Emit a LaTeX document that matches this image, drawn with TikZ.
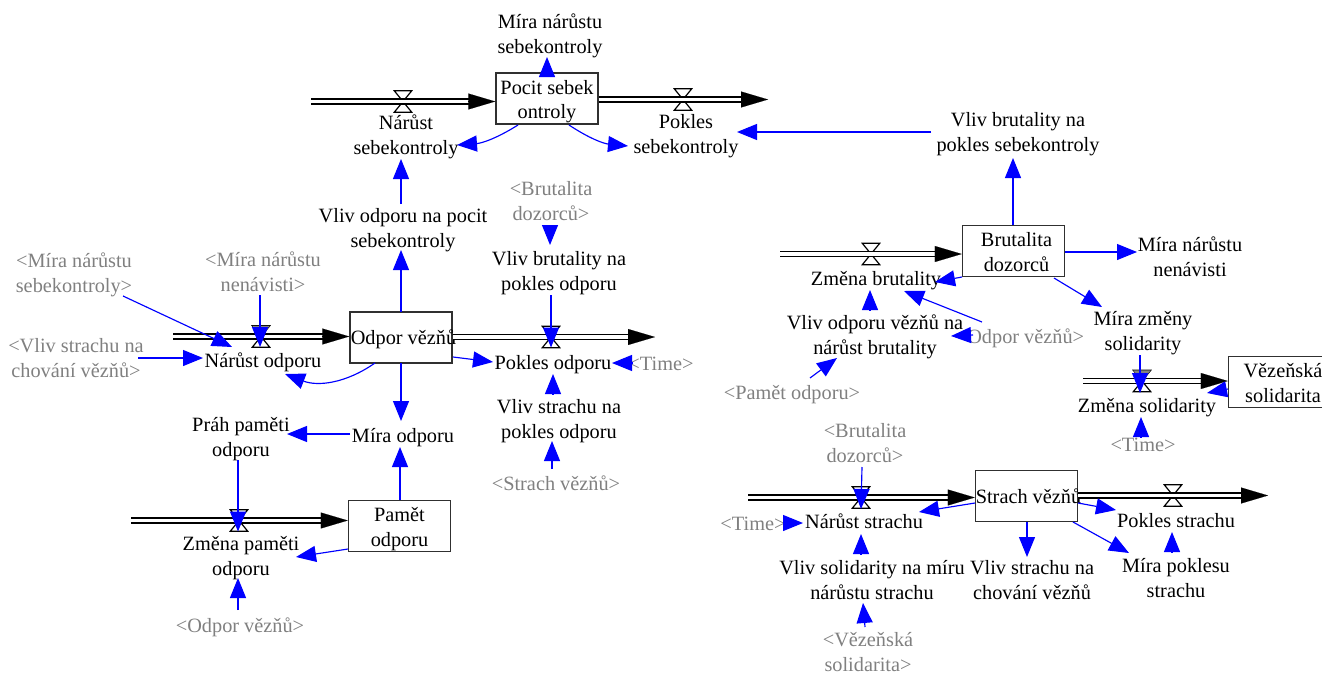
\documentclass[tikz,border=0pt]{standalone}
\usepackage{fontspec}
\setmainfont{Liberation Serif}
\usetikzlibrary{arrows.meta,calc}
\definecolor{gtext}{HTML}{808080}
\definecolor{bord}{HTML}{303030}
\newcommand{\zln}[1]{\makebox[0pt]{#1}}
\newcommand{\zz}{\rule{0pt}{19pt}}
\newcommand{\zq}{\rule{0pt}{21pt}}
\newcommand{\zy}{\rule[-5pt]{0pt}{0pt}}
\newcommand{\tn}[3]{\node[lab] (#1) at (#2) {\zz #3\zy};}
\newcommand{\gn}[3]{\node[glab] (#1) at (#2) {\zz #3\zy};}
\newcommand{\lnk}[6]{\draw[link] ([shift={(#2,#3)}]#1.center) -- ([shift={(#5,#6)}]#4.center);}
\newcommand{\valve}[2]{\node[valvebox] (#1) at (#2) {};
  \draw[valveline] (#1.north west) -- (#1.north east) -- (#1.south west) -- (#1.south east) -- cycle;}
\newcommand{\valvetop}[1]{\fill[gray] (#1.north west) -- (#1.north east) -- ($(#1.north east)!.35!(#1.south west)$) -- ($(#1.north west)!.35!(#1.south east)$) -- cycle;}
\newcommand{\inflow}[2]{\coordinate (#1t) at (#1 -| #2.west);
  \draw[pipe] (#1) -- ([xshift=-20]#1t);
  \draw[pipetip] ([xshift=-27]#1t) -- (#1t);}
\newcommand{\outflow}[2]{\coordinate (#1s) at (#1 -| #2.east);
  \draw[pipe] (#1s) -- ([xshift=-20]#1);
  \draw[pipetip] ([xshift=-27]#1) -- (#1);}
\tikzset{
  lab/.style={inner sep=0pt,align=center,font=\fontsize{20.3}{24.5}\selectfont},
  glab/.style={lab,text=gtext},
  stock/.style={lab,draw=bord,line width=1.5pt,minimum width=102pt,minimum height=51pt},
  valvebox/.style={inner sep=0pt,minimum width=17pt,minimum height=21pt},
  valveline/.style={draw=black,fill=white,line width=1.2pt},
  link/.style={draw=blue,line width=1.15pt,-{Triangle[length=20pt,width=16pt,fill=blue]}},
  pipe/.style={draw=black,line width=1.5pt,double=white,double distance=3.4pt},
  pipetip/.style={draw=black,line width=0.1pt,-{Triangle[length=27pt,width=16pt,fill=black]}},
}
\begin{document}
\begin{tikzpicture}[x=1pt,y=-1pt]
\clip (0,0) rectangle (1322,672);
% valves
\valve{v1}{403,101.5}
\valve{v2}{683,99.5}
\valve{v3}{261,336.5}
\valvetop{v3}
\valve{v4}{551,337}
\valve{v5}{239,520.5}
\valve{v6}{871,254}
\valve{v7}{1142,381}
\valvetop{v7}
\valve{v8}{861,497.5}
\valve{v9}{1173,495.5}
% stocks
\node[stock] (ps) at (547,98.5) {\zq\zln{Pocit sebek}\\\zln{ontroly}\zy};
\node[stock] (odp) at (401,337.5) {\zz\zln{\hspace{5pt}Odpor vězňů}\zy};
\node[stock] (pam) at (399.5,526) {\zq\zln{Pamět}\\\zln{odporu}\zy};
\node[stock] (br) at (1013.5,251) {\zq\zln{\hspace{6pt}Brutalita}\\\zln{\hspace{6pt}dozorců}\zy};
\node[stock] (ves) at (1279.5,382) {\zq\zln{\hspace{7pt}Vězeňská}\\\zln{\hspace{7pt}solidarita}\zy};
\node[stock] (st) at (1026.5,496) {\zz\zln{\hspace{4pt}Strach vězňů}\zy};
% labels
\tn{mns}{550,34}{Míra nárůstu\\sebekontroly}
\tn{ns}{406,135}{Nárůst\\sebekontroly}
\tn{pks}{686,134}{Pokles\\sebekontroly}
\tn{vbs}{1018,132}{Vliv brutality na\\pokles sebekontroly}
\tn{vop}{403,228}{Vliv odporu na pocit\\sebekontroly}
\tn{nod}{263,360}{Nárůst odporu}
\gn{gms}{74,273}{<Míra nárůstu\\sebekontroly>}
\gn{gmn}{263,272}{<Míra nárůstu\\nenávisti>}
\gn{gvs}{76,358}{<Vliv strachu na\\chování vězňů>}
\tn{pko}{553,362}{Pokles odporu}
\tn{mo}{403,435}{Míra odporu}
\tn{pr}{241,437}{Práh paměti\\odporu}
\tn{zp}{241,556}{Změna paměti\\odporu}
\gn{god}{240,625}{<Odpor vězňů>}
\tn{vbo}{559,271}{Vliv brutality na\\pokles odporu}
\gn{gbd}{551,201}{<Brutalita\\dozorců>}
\gn{gti1}{661,363}{<Time>}
\tn{vso}{559,419}{Vliv strachu na\\pokles odporu}
\gn{gsv}{556,483}{<Strach vězňů>}
\tn{zb}{876,278}{Změna brutality}
\tn{mnn}{1190,257}{Míra nárůstu\\nenávisti}
\tn{mzs}{1143,331}{Míra změny\\solidarity}
\tn{zs}{1147,405}{Změna solidarity}
\gn{gti2}{1143,444}{<Time>}
\gn{god2}{1020,336}{<Odpor vězňů>}
\tn{vov}{875,335}{Vliv odporu vězňů na\\nárůst brutality}
\gn{gpo}{792,392}{<Pamět odporu>}
\tn{nst}{864,521}{Nárůst strachu}
\gn{gbd2}{865,443}{<Brutalita\\dozorců>}
\gn{gti3}{753,523}{<Time>}
\tn{vsm}{872,580}{Vliv solidarity na míru\\nárůstu strachu}
\gn{gvz}{868,652}{<Vězeňská\\solidarita>}
\tn{vsc}{1032,580}{Vliv strachu na\\chování vězňů}
\tn{pst}{1176,520}{Pokles strachu}
\tn{mps}{1176,578}{Míra poklesu\\strachu}
% pipes
\coordinate (c1) at (311,101.5); \inflow{c1}{ps}
\coordinate (e2) at (768,99.5); \outflow{e2}{ps}
\coordinate (c3) at (173,336.5); \inflow{c3}{odp}
\coordinate (e4) at (655,337); \outflow{e4}{odp}
\coordinate (c5) at (131,520.5); \inflow{c5}{pam}
\coordinate (c6) at (780,254); \inflow{c6}{br}
\coordinate (c7) at (1083,381); \inflow{c7}{ves}
\coordinate (c8) at (748,497.5); \inflow{c8}{st}
\coordinate (e9) at (1268,495.5); \outflow{e9}{st}
% connectors
\lnk{ps}{0}{-22.5}{mns}{-3}{23}
\draw[link] ([shift={(-29,26.5)}]ps.center) to[bend left=14] ([shift={(51,10)}]ns.center);
\draw[link] ([shift={(22,26.5)}]ps.center) to[bend right=14] ([shift={(-58,12)}]pks.center);
\lnk{vbs}{-87}{0}{pks}{51}{-2}
\lnk{vop}{-2}{-24}{ns}{-5}{24}
\lnk{odp}{0}{-25.5}{vop}{-2}{22}
\lnk{gms}{49}{23}{nod}{-31}{-13}
\lnk{gmn}{-3}{23}{v3}{-1}{10.5}
\lnk{gvs}{62}{0}{nod}{-60}{-2}
\draw[link] ([shift={(-26,25.5)}]odp.center) to[bend left=28] ([shift={(22,14)}]nod.center);
\lnk{odp}{52}{19.5}{pko}{-60}{0}
\lnk{odp}{0}{25.5}{mo}{-2}{-14}
\lnk{mo}{-53}{-1}{pr}{46}{-3}
\lnk{pr}{-3}{23}{v5}{-1}{11}
\lnk{pam}{0.5}{-26}{mo}{-3}{12}
\lnk{pam}{-51.5}{23}{zp}{55}{1}
\lnk{god}{-2}{-15}{zp}{-3}{22}
\lnk{gbd}{-1}{25}{vbo}{-9}{-26}
\lnk{vbo}{-8}{24}{v4}{0}{10.5}
\lnk{gti1}{-29}{0}{pko}{59}{1}
\lnk{vso}{-6}{-25}{pko}{0}{12}
\lnk{gsv}{-4}{-14}{vso}{-7}{22}
\lnk{br}{-0.5}{-26}{vbs}{-5}{26}
\lnk{br}{-51.5}{26}{zb}{59}{4}
\lnk{br}{51.5}{1}{mnn}{-53}{-5}
\lnk{br}{40.5}{27}{mzs}{-41}{-24}
\lnk{mzs}{-3}{24}{v7}{-2}{12}
\lnk{ves}{-51.5}{7}{zs}{60}{-12}
\lnk{gti2}{-2}{-7}{zs}{-6}{12}
\lnk{god2}{-38}{-14}{zb}{28}{13}
\lnk{god2}{-47}{-1}{vov}{76}{1}
\lnk{vov}{-5}{-25}{zb}{-6}{12}
\lnk{gpo}{18}{-14}{vov}{-38}{23}
\lnk{gbd2}{-3}{24}{v8}{0}{11.5}
\lnk{st}{-51.5}{7}{nst}{55}{-9}
\lnk{gti3}{30}{0}{nst}{-61}{2}
\lnk{vsm}{-11}{-25}{nst}{-3}{13}
\lnk{gvz}{-3}{-25}{vsm}{-9}{23}
\lnk{st}{0.5}{26}{vsc}{-5}{-23}
\lnk{st}{51.5}{7}{pst}{-60}{-10}
\lnk{st}{46.5}{26}{mps}{-47}{-25}
\lnk{mps}{-4}{-26}{pst}{-4}{12}
\end{tikzpicture}
\end{document}
